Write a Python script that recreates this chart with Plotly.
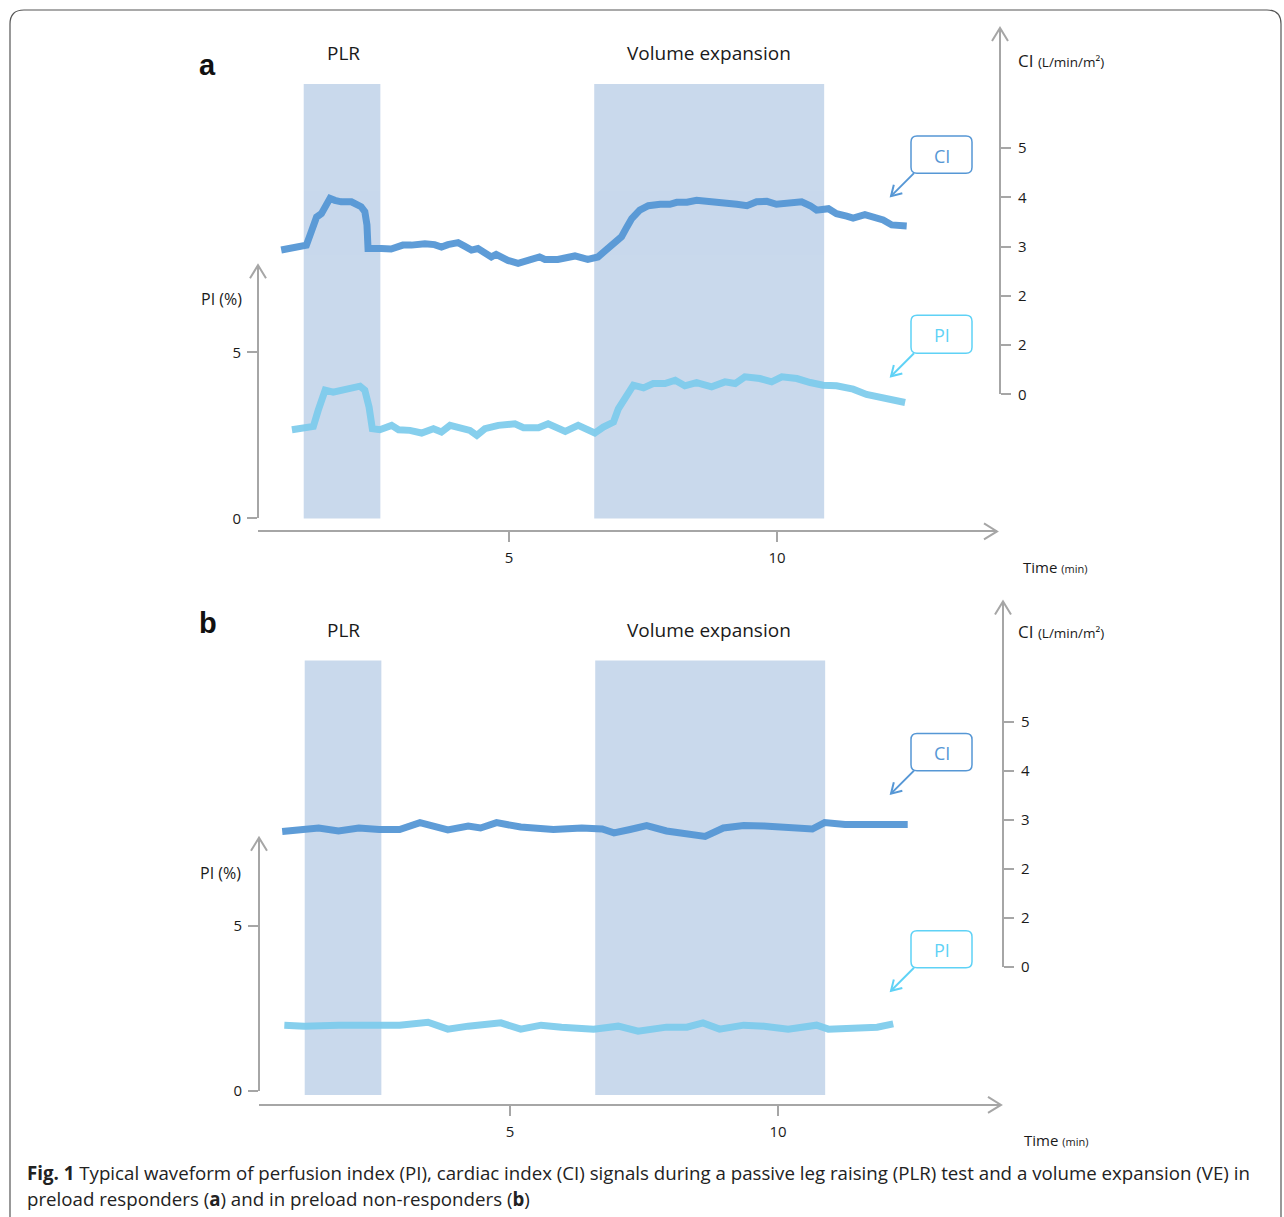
import plotly.graph_objects as go

W, H = 1284, 1217          # target picture size (design pixel grid)
FIG_H = 1227               # drawn height: the capture squeezes the page height by ~1217/1227

# ---------------- data ----------------
# Panel a: preload responder
TIME_A_CI = [0.75, 0.94, 1.16, 1.22, 1.31, 1.41, 1.50, 1.56, 1.66, 1.75, 1.87, 2.06, 2.15, 2.24, 2.31, 2.35,
             2.37, 2.46, 2.62, 2.80, 3.02, 3.18, 3.43, 3.61, 3.74, 3.86, 4.05, 4.17, 4.30, 4.42, 4.55, 4.67,
             4.76, 4.98, 5.17, 5.42, 5.57, 5.67, 5.91, 6.23, 6.47, 6.66, 6.82, 6.98, 7.10, 7.20, 7.29, 7.44,
             7.60, 7.82, 8.00, 8.13, 8.32, 8.50, 8.69, 8.88, 9.06, 9.25, 9.44, 9.62, 9.81, 9.99, 10.24, 10.46,
             10.62, 10.74, 10.96, 11.11, 11.30, 11.42, 11.64, 11.83, 11.98, 12.14, 12.30, 12.42]
CI_A = [2.93, 2.96, 3.01, 3.03, 3.30, 3.60, 3.67, 3.77, 3.98, 3.94, 3.91, 3.91, 3.86, 3.81, 3.71, 3.44,
        2.96, 2.97, 2.96, 2.95, 3.03, 3.03, 3.06, 3.04, 2.99, 3.04, 3.08, 3.01, 2.93, 2.96, 2.89, 2.79,
        2.84, 2.72, 2.66, 2.72, 2.79, 2.74, 2.74, 2.81, 2.74, 2.79, 2.93, 3.10, 3.20, 3.40, 3.57, 3.74,
        3.83, 3.86, 3.86, 3.90, 3.90, 3.94, 3.91, 3.88, 3.88, 3.86, 3.83, 3.91, 3.92, 3.86, 3.89, 3.91,
        3.83, 3.74, 3.77, 3.67, 3.62, 3.58, 3.65, 3.60, 3.54, 3.44, 3.44, 3.42]
TIME_A_PI = [0.95, 1.19, 1.35, 1.44, 1.57, 1.72, 1.88, 2.07, 2.22, 2.31, 2.39, 2.45, 2.59, 2.81, 2.94, 3.15,
             3.37, 3.59, 3.74, 3.90, 4.12, 4.27, 4.40, 4.55, 4.80, 5.11, 5.27, 5.55, 5.73, 6.05, 6.29, 6.48,
             6.60, 6.76, 6.95, 7.04, 7.16, 7.32, 7.51, 7.69, 7.91, 8.10, 8.28, 8.50, 8.78, 9.03, 9.22, 9.40,
             9.68, 9.90, 10.09, 10.37, 10.62, 10.86, 11.11, 11.42, 11.67, 11.98, 12.20, 12.39]
PI_A = [2.67, 2.70, 2.77, 3.25, 3.86, 3.80, 3.86, 3.91, 3.98, 3.86, 3.35, 2.70, 2.67, 2.80, 2.67, 2.65,
        2.57, 2.70, 2.60, 2.80, 2.73, 2.65, 2.50, 2.70, 2.80, 2.85, 2.73, 2.73, 2.85, 2.62, 2.80, 2.63,
        2.57, 2.75, 2.90, 3.30, 3.65, 4.01, 3.93, 4.06, 4.06, 4.16, 3.99, 4.09, 3.96, 4.11, 4.06, 4.26,
        4.21, 4.11, 4.26, 4.21, 4.09, 4.01, 3.99, 3.89, 3.73, 3.62, 3.55, 3.49]

# Panel b: preload non-responder
TIME_B_CI = [0.75, 1.13, 1.43, 1.80, 2.18, 2.56, 2.94, 3.32, 3.84, 4.22, 4.45, 4.75, 5.20, 5.81, 6.34, 6.72,
             6.94, 7.24, 7.55, 7.92, 8.30, 8.64, 8.98, 9.36, 9.74, 10.19, 10.64, 10.87, 11.25, 11.70, 12.15, 12.42]
CI_B = [2.76, 2.80, 2.83, 2.77, 2.83, 2.80, 2.80, 2.94, 2.79, 2.87, 2.83, 2.94, 2.85, 2.80, 2.83, 2.81,
        2.73, 2.80, 2.88, 2.77, 2.73, 2.66, 2.83, 2.88, 2.87, 2.83, 2.81, 2.94, 2.90, 2.90, 2.91, 2.90]
TIME_B_PI = [0.79, 1.16, 1.80, 2.56, 2.94, 3.47, 3.84, 4.22, 4.83, 5.20, 5.58, 5.96, 6.56, 7.02, 7.39, 7.92,
             8.30, 8.60, 8.91, 9.36, 9.74, 10.19, 10.72, 10.94, 11.40, 11.85, 12.15]
PI_B = [1.99, 1.96, 1.99, 1.96, 1.99, 2.08, 1.87, 1.96, 2.06, 1.87, 1.99, 1.93, 1.87, 1.96, 1.81, 1.93,
        1.93, 2.06, 1.87, 1.99, 1.96, 1.87, 1.99, 1.87, 1.91, 1.93, 2.03]

PLR_WINDOW = [1.17, 2.60]      # minutes
VE_WINDOW = [6.59, 10.88]      # minutes
TIME_TICKS = [5, 10]
PI_TICKS = [0, 5]
CI_TICKVALS = [0, 1, 2, 3, 4, 5]
CI_TICKTEXT = ["0", "2", "2", "3", "4", "5"]
PANEL_LABELS = ["a", "b"]
CAPTION_1 = ("<b>Fig. 1</b> Typical waveform of perfusion index (PI), cardiac index (CI) signals during a passive "
             "leg raising (PLR) test and a volume expansion (VE) in")
CAPTION_2 = "preload responders (<b>a</b>) and in preload non-responders (<b>b</b>)"

# ---------------- styles ----------------
AX = "#a6a6a6"
CI_COLOR = "#5697d5"
PI_COLOR = "#7ccbec"
PI_BOX = "#5fd2f6"
BAND = "#c9d9ec"
TXT = "#1a1a1a"
FONT = "Open Sans"


def fx(px):
    return px / W


def fy(py):
    return 1 - py / H


# pixel geometry of the two panels (design pixels)
PANELS = [
    dict(xl=258, xr=997, xline=531, t0=241, ppm=53.6,
         pix=258, pi0=518, pitop=265, pippu=33.2,
         cix=1000, ci0=394, citop=28, cippu=49.2,
         band_top=84, band_bot=518, head_y=53, lab=(207, 65),
         cilab_y=60, pilab=(221, 299), time_y=567, time_x=1021,
         cibox=(911, 136, 972, 173), pibox=(911, 315, 972, 353),
         ci_tip=(891, 196), pi_tip=(891, 376)),
    dict(xl=259, xr=1001, xline=1104, t0=242, ppm=53.6,
         pix=259, pi0=1090, pitop=837, pippu=33.0,
         cix=1003, ci0=966, citop=601, cippu=49.0,
         band_top=660, band_bot=1094, head_y=629, lab=(208, 622),
         cilab_y=631, pilab=(220, 872), time_y=1139, time_x=1022,
         cibox=(911, 733, 972, 770), pibox=(911, 930, 972, 967),
         ci_tip=(891, 793), pi_tip=(891, 990)),
]
SERIES = [(TIME_A_CI, CI_A, TIME_A_PI, PI_A), (TIME_B_CI, CI_B, TIME_B_PI, PI_B)]


def chevron(tipx, tipy, dx, dy, L=13, hw=8):
    n = (dx * dx + dy * dy) ** 0.5
    ux, uy = dx / n, dy / n
    bx, by = tipx - ux * L, tipy - uy * L
    nx, ny = -uy, ux
    a = (bx + nx * hw, by + ny * hw)
    b = (bx - nx * hw, by - ny * hw)
    return f"M{fx(a[0])},{fy(a[1])} L{fx(tipx)},{fy(tipy)} L{fx(b[0])},{fy(b[1])}"


def rrect(x0, y0, x1, y1, r):
    return (f"M{fx(x0 + r)},{fy(y0)} L{fx(x1 - r)},{fy(y0)} Q{fx(x1)},{fy(y0)} {fx(x1)},{fy(y0 + r)} "
            f"L{fx(x1)},{fy(y1 - r)} Q{fx(x1)},{fy(y1)} {fx(x1 - r)},{fy(y1)} "
            f"L{fx(x0 + r)},{fy(y1)} Q{fx(x0)},{fy(y1)} {fx(x0)},{fy(y1 - r)} "
            f"L{fx(x0)},{fy(y0 + r)} Q{fx(x0)},{fy(y0)} {fx(x0 + r)},{fy(y0)} Z")


def open_frame(x0, y0, x1, ybot, r):
    return (f"M{fx(x0)},{fy(ybot)} L{fx(x0)},{fy(y0 + r)} Q{fx(x0)},{fy(y0)} {fx(x0 + r)},{fy(y0)} "
            f"L{fx(x1 - r)},{fy(y0)} Q{fx(x1)},{fy(y0)} {fx(x1)},{fy(y0 + r)} L{fx(x1)},{fy(ybot)}")


fig = go.Figure()
layout = dict(width=W, height=FIG_H, autosize=False, margin=dict(l=0, r=0, t=0, b=0, pad=0),
              paper_bgcolor="white", plot_bgcolor="rgba(0,0,0,0)", showlegend=False,
              font=dict(family=FONT, color=TXT))
shapes, annotations = [], []

for i, (p, (tci, ci, tpi, pi)) in enumerate(zip(PANELS, SERIES)):
    xn = 2 * i + 1
    xa = "xaxis" if xn == 1 else f"xaxis{xn}"
    xr = "x" if xn == 1 else f"x{xn}"
    ypi_n, yci_n = 2 * i + 1, 2 * i + 2
    ypi = "yaxis" if ypi_n == 1 else f"yaxis{ypi_n}"
    ypi_r = "y" if ypi_n == 1 else f"y{ypi_n}"
    yci = f"yaxis{yci_n}"
    yci_r = f"y{yci_n}"

    layout[xa] = dict(domain=[fx(p["xl"]), fx(p["xr"])],
                      range=[(p["xl"] - p["t0"]) / p["ppm"], (p["xr"] - p["t0"]) / p["ppm"]],
                      anchor="free", position=fy(p["xline"]), showline=True, linecolor=AX, linewidth=2,
                      ticks="outside", ticklen=10, tickwidth=2, tickcolor=AX, tickvals=TIME_TICKS,
                      ticklabelstandoff=3,
                      showgrid=False, zeroline=False, tickfont=dict(size=15, color=TXT, family=FONT))
    layout[ypi] = dict(domain=[fy(p["pi0"]), fy(p["pitop"])],
                       range=[0, (p["pi0"] - p["pitop"]) / p["pippu"]],
                       anchor="free", position=fx(p["pix"]), side="left", showline=True, linecolor=AX,
                       linewidth=2, ticks="outside", ticklen=10, tickwidth=2, tickcolor=AX,
                       tickvals=PI_TICKS, showgrid=False, zeroline=False, ticklabelstandoff=3,
                       tickfont=dict(size=15, color=TXT, family=FONT))
    layout[yci] = dict(domain=[fy(p["ci0"]), fy(p["citop"])],
                       range=[0, (p["ci0"] - p["citop"]) / p["cippu"]],
                       anchor="free", position=fx(p["cix"]), side="right", showline=True, linecolor=AX,
                       linewidth=2, ticks="outside", ticklen=10, tickwidth=2, tickcolor=AX,
                       tickvals=CI_TICKVALS, ticktext=CI_TICKTEXT, showgrid=False, zeroline=False,
                       ticklabelstandoff=4, tickfont=dict(size=15, color=TXT, family=FONT))

    # shaded windows
    for w in (PLR_WINDOW, VE_WINDOW):
        shapes.append(dict(type="rect", xref=xr, yref="paper", x0=w[0], x1=w[1],
                           y0=fy(p["band_bot"]), y1=fy(p["band_top"]), fillcolor=BAND,
                           line=dict(width=0), layer="below"))

    # traces
    fig.add_trace(go.Scatter(x=tci, y=ci, xaxis=xr, yaxis=yci_r, mode="lines",
                             line=dict(color=CI_COLOR, width=7), opacity=0.95, hoverinfo="skip"))
    fig.add_trace(go.Scatter(x=tpi, y=pi, xaxis=xr, yaxis=ypi_r, mode="lines",
                             line=dict(color=PI_COLOR, width=7), opacity=0.92, hoverinfo="skip"))

    # axis arrow heads
    shapes.append(dict(type="path", xref="paper", yref="paper",
                       path=chevron(p["xr"], p["xline"], 1, 0), line=dict(color=AX, width=2)))
    shapes.append(dict(type="path", xref="paper", yref="paper",
                       path=chevron(p["pix"], p["pitop"], 0, -1), line=dict(color=AX, width=2)))
    shapes.append(dict(type="path", xref="paper", yref="paper",
                       path=chevron(p["cix"], p["citop"], 0, -1), line=dict(color=AX, width=2)))

    # callout boxes
    for box, tip, col, txt in ((p["cibox"], p["ci_tip"], CI_COLOR, "CI"),
                               (p["pibox"], p["pi_tip"], PI_BOX, "PI")):
        x0, y0, x1, y1 = box
        shapes.append(dict(type="path", xref="paper", yref="paper", path=rrect(x0, y0, x1, y1, 6),
                           line=dict(color=col, width=1.5), fillcolor="white"))
        tail = (x0 + 3, y1)
        shapes.append(dict(type="line", xref="paper", yref="paper", x0=fx(tail[0]), y0=fy(tail[1]),
                           x1=fx(tip[0]), y1=fy(tip[1]), line=dict(color=col, width=2)))
        shapes.append(dict(type="path", xref="paper", yref="paper",
                           path=chevron(tip[0], tip[1], tip[0] - tail[0], tip[1] - tail[1], L=10, hw=6),
                           line=dict(color=col, width=2)))
        annotations.append(dict(xref="paper", yref="paper", x=fx((x0 + x1) / 2), y=fy((y0 + y1) / 2 + 1),
                                text=txt, showarrow=False, font=dict(size=18, color=col, family=FONT),
                                xanchor="center", yanchor="middle"))

    # texts
    annotations += [
        dict(x=fx(p["lab"][0]), y=fy(p["lab"][1]), text=f"<b>{PANEL_LABELS[i]}</b>",
             font=dict(size=29, family="Liberation Sans", color="#111")),
        dict(x=fx(343), y=fy(p["head_y"]), text="PLR", font=dict(size=19)),
        dict(x=fx(709), y=fy(p["head_y"]), text="Volume expansion", font=dict(size=19)),
        dict(x=fx(p["pilab"][0]), y=fy(p["pilab"][1]), text="PI (%)", font=dict(size=16)),
        dict(x=fx(1016), y=fy(p["cilab_y"]), xanchor="left",
             text="CI <span style='font-size:13.5px'>(L/min/m²)</span>", font=dict(size=17)),
        dict(x=fx(p["time_x"]), y=fy(p["time_y"]), xanchor="left",
             text="Time <span style='font-size:11px'>(min)</span>", font=dict(size=15)),
    ]

for a in annotations:
    a.setdefault("xref", "paper")
    a.setdefault("yref", "paper")
    a.setdefault("showarrow", False)
    a.setdefault("xanchor", "center")
    a.setdefault("yanchor", "middle")

# caption
annotations.append(dict(xref="paper", yref="paper", x=fx(25), y=fy(1172), xanchor="left", yanchor="middle",
                        text=CAPTION_1, showarrow=False, font=dict(size=18.7, color="#222", family=FONT)))
annotations.append(dict(xref="paper", yref="paper", x=fx(25), y=fy(1198), xanchor="left", yanchor="middle",
                        text=CAPTION_2, showarrow=False, font=dict(size=18.7, color="#222", family=FONT)))

# outer frame (open at the bottom, stays inside the page)
shapes.append(dict(type="path", xref="paper", yref="paper", path=open_frame(10, 10, 1281, H, 14),
                   line=dict(color="#555555", width=1.2), layer="below"))

layout["shapes"] = shapes
layout["annotations"] = annotations
fig.update_layout(**layout)

PAGE_FIX = (
    "var de=document.documentElement, b=document.body;"
    "de.style.margin='0'; de.style.padding='0'; de.style.overflow='hidden';"
    "b.style.margin='0'; b.style.padding='0'; b.style.overflow='hidden';"
    "document.querySelectorAll('.plotly-graph-div, .plot-container, .svg-container').forEach("
    "function(e){e.style.display='block';});"
)
fig.write_html("out.html", config={"displayModeBar": False}, post_script=PAGE_FIX)
